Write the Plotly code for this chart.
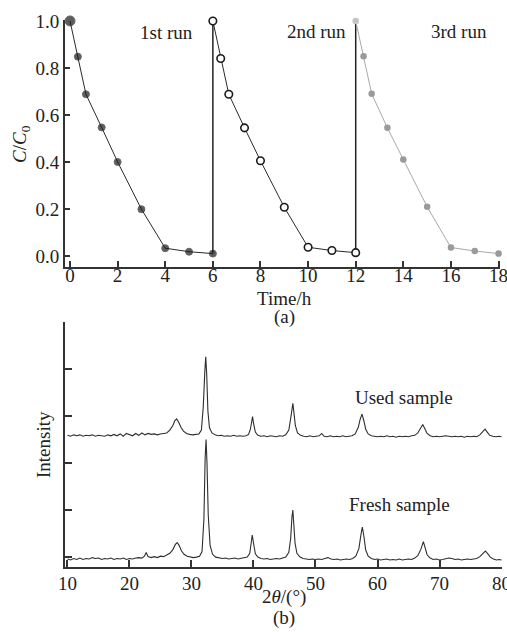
import plotly.graph_objects as go

# ---------------- data: (a) photocatalytic cycles ----------------
run1_t = [0, 0.33, 0.67, 1.33, 2, 3, 4, 5, 6]
run1_c = [1.0, 0.848, 0.688, 0.547, 0.40, 0.199, 0.033, 0.018, 0.01]
run2_t = [6, 6.33, 6.67, 7.33, 8, 9, 10, 11, 12]
run2_c = [1.0, 0.84, 0.688, 0.545, 0.405, 0.207, 0.037, 0.023, 0.014]
run3_t = [12, 12.33, 12.67, 13.33, 14, 15, 16, 17, 18]
run3_c = [1.0, 0.85, 0.69, 0.545, 0.41, 0.209, 0.036, 0.021, 0.01]
run_labels = ["1st run", "2nd run", "3rd run"]
run_label_t = [4.07, 10.37, 16.32]
run_label_c = [0.949, 0.953, 0.953]
time_ticks = [0, 2, 4, 6, 8, 10, 12, 14, 16, 18]
c_ticks = [0.0, 0.2, 0.4, 0.6, 0.8, 1.0]

# ---------------- data: (b) XRD patterns ----------------
fresh_2theta = [
    10.0, 10.5, 11.0, 11.5, 12.0, 12.5, 13.0, 13.5, 14.0, 14.5, 15.0, 15.5, 16.0, 16.5,
    17.0, 17.5, 18.0, 18.5, 19.0, 19.5, 20.0, 20.5, 21.0, 21.5, 22.0, 22.4, 22.7, 23.0,
    23.5, 24.0, 24.5, 25.0, 25.5, 26.0, 26.5, 27.0, 27.4, 27.7, 28.0, 28.4, 28.8, 29.3,
    29.8, 30.3, 30.8, 31.3, 31.7, 32.0, 32.2, 32.35, 32.5, 32.7, 33.0, 33.4, 33.9, 34.5,
    35.0, 35.5, 36.0, 36.5, 37.0, 37.5, 38.0, 38.5, 39.0, 39.4, 39.65, 39.8, 40.0, 40.3,
    40.7, 41.2, 41.7, 42.2, 42.7, 43.2, 43.7, 44.2, 44.7, 45.2, 45.7, 46.0, 46.2, 46.35,
    46.5, 46.7, 47.0, 47.5, 48.0, 48.5, 49.0, 49.5, 50.0, 50.5, 51.0, 51.5, 52.0, 52.5,
    53.0, 53.5, 54.0, 54.5, 55.0, 55.5, 56.0, 56.5, 57.0, 57.3, 57.55, 57.8, 58.1, 58.5,
    59.0, 59.5, 60.0, 60.5, 61.0, 61.5, 62.0, 62.5, 63.0, 63.5, 64.0, 64.5, 65.0, 65.5,
    66.0, 66.5, 67.0, 67.4, 67.7, 68.0, 68.5, 69.0, 69.5, 70.0, 70.5, 71.0, 71.5, 72.0,
    72.5, 73.0, 73.5, 74.0, 74.5, 75.0, 75.5, 76.0, 76.5, 77.0, 77.4, 77.8, 78.2, 78.7,
    79.2, 79.6, 80.0]
fresh_int = [
    -0.04, -0.06, -0.03, -0.05, -0.02, -0.05, -0.03, -0.04, -0.01, -0.03, -0.02, -0.05, -0.03, -0.04,
    -0.02, -0.05, -0.03, -0.04, -0.02, -0.05, -0.03, -0.04, -0.02, -0.01, -0.02, 0.02, 0.10, 0.01,
    -0.01, 0.01, -0.01, 0.02, 0.01, 0.04, 0.08, 0.16, 0.27, 0.31, 0.25, 0.13, 0.06, 0.02,
    0.00, -0.01, 0.00, 0.02, 0.12, 0.80, 2.10, 2.50, 2.00, 0.90, 0.25, 0.06, 0.00, -0.02,
    -0.03, -0.02, -0.04, -0.03, -0.02, -0.04, -0.03, -0.02, 0.00, 0.08, 0.30, 0.47, 0.30, 0.07,
    0.00, -0.03, -0.04, -0.03, -0.05, -0.04, -0.03, -0.04, -0.02, 0.00, 0.10, 0.40, 0.85, 1.00,
    0.70, 0.30, 0.08, 0.00, -0.03, -0.04, -0.05, -0.04, -0.05, -0.04, -0.05, -0.03, -0.01, -0.04,
    -0.05, -0.04, -0.06, -0.05, -0.04, -0.05, -0.03, 0.02, 0.18, 0.45, 0.64, 0.45, 0.15, 0.02,
    -0.03, -0.05, -0.04, -0.06, -0.05, -0.04, -0.06, -0.05, -0.06, -0.04, -0.06, -0.05, -0.04, -0.05,
    -0.02, 0.03, 0.17, 0.33, 0.18, 0.05, -0.02, -0.05, -0.04, -0.06, -0.05, -0.04, -0.02, -0.03,
    -0.05, -0.04, -0.06, -0.05, -0.04, -0.05, -0.04, -0.03, 0.01, 0.08, 0.13, 0.07, 0.00, -0.04,
    -0.06, -0.05, -0.06]

used_2theta = [
    10.0, 10.5, 11.0, 11.5, 12.0, 12.5, 13.0, 13.5, 14.0, 14.5, 15.0, 15.5, 16.0, 16.5,
    17.0, 17.5, 18.0, 18.5, 19.0, 19.5, 20.0, 20.5, 21.0, 21.5, 22.0, 22.5, 23.0, 23.5,
    24.0, 24.5, 25.0, 25.5, 26.0, 26.5, 27.0, 27.3, 27.6, 27.9, 28.3, 28.7, 29.2, 29.7,
    30.2, 30.7, 31.2, 31.6, 31.9, 32.15, 32.3, 32.45, 32.65, 32.9, 33.3, 33.8, 34.3, 34.8,
    35.3, 35.8, 36.3, 36.8, 37.3, 37.8, 38.3, 38.8, 39.2, 39.5, 39.7, 39.85, 40.0, 40.3,
    40.7, 41.2, 41.7, 42.2, 42.7, 43.2, 43.7, 44.2, 44.7, 45.2, 45.7, 46.0, 46.2, 46.35,
    46.5, 46.75, 47.1, 47.6, 48.1, 48.6, 49.1, 49.6, 50.1, 50.6, 51.0, 51.4, 51.9, 52.4,
    52.9, 53.4, 53.9, 54.4, 54.9, 55.4, 55.9, 56.4, 56.9, 57.2, 57.5, 57.8, 58.1, 58.5,
    59.0, 59.5, 60.0, 60.5, 61.0, 61.5, 62.0, 62.5, 63.0, 63.5, 64.0, 64.5, 65.0, 65.5,
    66.0, 66.5, 66.9, 67.3, 67.6, 68.0, 68.5, 69.0, 69.5, 70.0, 70.5, 71.0, 71.5, 72.0,
    72.5, 73.0, 73.5, 74.0, 74.5, 75.0, 75.5, 76.0, 76.5, 77.0, 77.35, 77.7, 78.1, 78.6,
    79.1, 79.6, 80.0]
used_int = [
    2.59, 2.57, 2.60, 2.58, 2.60, 2.57, 2.59, 2.58, 2.60, 2.57, 2.59, 2.58, 2.57, 2.60,
    2.58, 2.61, 2.58, 2.62, 2.57, 2.63, 2.60, 2.58, 2.63, 2.59, 2.64, 2.60, 2.63, 2.61,
    2.62, 2.60, 2.62, 2.63, 2.64, 2.70, 2.80, 2.90, 2.94, 2.88, 2.76, 2.68, 2.63, 2.61,
    2.60, 2.61, 2.62, 2.70, 3.20, 3.95, 4.26, 3.90, 3.10, 2.75, 2.64, 2.60, 2.58, 2.59,
    2.57, 2.58, 2.57, 2.59, 2.57, 2.58, 2.57, 2.58, 2.61, 2.72, 2.92, 2.99, 2.85, 2.66,
    2.59, 2.57, 2.58, 2.56, 2.58, 2.57, 2.56, 2.58, 2.57, 2.60, 2.70, 2.95, 3.20, 3.27,
    3.10, 2.80, 2.64, 2.59, 2.57, 2.56, 2.58, 2.56, 2.57, 2.58, 2.63, 2.57, 2.56, 2.58,
    2.56, 2.57, 2.56, 2.58, 2.56, 2.57, 2.58, 2.62, 2.76, 2.93, 3.04, 2.90, 2.72, 2.62,
    2.58, 2.57, 2.56, 2.57, 2.56, 2.58, 2.56, 2.57, 2.55, 2.57, 2.56, 2.57, 2.56, 2.58,
    2.59, 2.64, 2.74, 2.82, 2.74, 2.63, 2.58, 2.56, 2.57, 2.56, 2.57, 2.58, 2.57, 2.56,
    2.57, 2.56, 2.57, 2.55, 2.57, 2.56, 2.57, 2.56, 2.60, 2.67, 2.72, 2.66, 2.59, 2.57,
    2.56, 2.57, 2.56]
sample_labels = ["Used sample", "Fresh sample"]
sample_label_2theta = [64.2, 63.5]
sample_label_int = [3.40, 1.11]
theta_ticks = [10, 20, 30, 40, 50, 60, 70, 80]
int_ticks = [0, 1, 2, 3, 4, 5]

# ---------------- styling / layout ----------------
FONT = "Liberation Serif"
TXT = "#222222"
AX = "#333333"
W, H = 507, 632
ML, MR, MT, MB = 65, 5, 20, 65
PW = W - ML - MR
PH = H - MT - MB


def px(xp):
    return (xp - ML) / PW


def py(yp):
    return (H - MB - yp) / PH


fig = go.Figure()

# vertical connectors between runs
fig.add_trace(go.Scatter(x=[run1_t[-1], run2_t[0]], y=[run1_c[-1], run2_c[0]], mode="lines",
                         line=dict(color="#222222", width=1.5), xaxis="x", yaxis="y",
                         showlegend=False, hoverinfo="skip"))
fig.add_trace(go.Scatter(x=[run2_t[-1], run3_t[0]], y=[run2_c[-1], run3_c[0]], mode="lines",
                         line=dict(color="#222222", width=1.5), xaxis="x", yaxis="y",
                         showlegend=False, hoverinfo="skip"))

fig.add_trace(go.Scatter(x=run1_t, y=run1_c, mode="lines+markers",
                         line=dict(color="#2a2a2a", width=1),
                         marker=dict(color="#1a1a1a", size=[10] + [7] * (len(run1_t) - 1)),
                         cliponaxis=False, xaxis="x", yaxis="y", showlegend=False))
fig.add_trace(go.Scatter(x=run2_t, y=run2_c, mode="lines+markers",
                         line=dict(color="#2a2a2a", width=1),
                         marker=dict(color="white", size=7.5, line=dict(color="#1a1a1a", width=1.6)),
                         cliponaxis=False, xaxis="x", yaxis="y", showlegend=False))
fig.add_trace(go.Scatter(x=run3_t, y=run3_c, mode="lines+markers",
                         line=dict(color="#a8a8a8", width=1),
                         marker=dict(color=["#c4c4c4"] + ["#9a9a9a"] * (len(run3_t) - 1), size=6.5),
                         cliponaxis=False, xaxis="x", yaxis="y", showlegend=False))

fig.add_trace(go.Scatter(x=used_2theta, y=used_int, mode="lines",
                         line=dict(color="#2e2e2e", width=1.1),
                         xaxis="x2", yaxis="y2", showlegend=False))
fig.add_trace(go.Scatter(x=fresh_2theta, y=fresh_int, mode="lines",
                         line=dict(color="#2e2e2e", width=1.1),
                         xaxis="x2", yaxis="y2", showlegend=False))

ann = []
for lab, t, c in zip(run_labels, run_label_t, run_label_c):
    ann.append(dict(text=lab, x=t, y=c, xref="x", yref="y", showarrow=False,
                    font=dict(family=FONT, size=19, color=TXT)))
for lab, t, c in zip(sample_labels, sample_label_2theta, sample_label_int):
    ann.append(dict(text=lab, x=t, y=c, xref="x2", yref="y2", showarrow=False,
                    font=dict(family=FONT, size=19, color=TXT)))

titles = [
    ("<i>C</i>/<i>C</i><sub>0</sub>", 21, 144, -90),
    ("Time/h", 284, 298, 0),
    ("(a)", 284, 317, 0),
    ("Intensity", 43, 445, -90),
    ("2<i>θ</i>/(°)", 284, 597, 0),
    ("(b)", 284, 618, 0),
]
for txt, xp, yp, ang in titles:
    ann.append(dict(text=txt, x=px(xp), y=py(yp), xref="paper", yref="paper",
                    xanchor="center", yanchor="middle", showarrow=False, textangle=ang,
                    font=dict(family=FONT, size=19, color=TXT)))

axis_common = dict(showline=True, linecolor=AX, linewidth=1.8, ticks="inside",
                   tickcolor=AX, tickwidth=1.5, showgrid=False, zeroline=False,
                   mirror=False, tickfont=dict(family=FONT, size=19, color=TXT),
                   ticklabeloverflow="allow", automargin=False)

fig.update_layout(
    width=W, height=H,
    margin=dict(l=ML, r=MR, t=MT, b=MB),
    paper_bgcolor="white", plot_bgcolor="white",
    font=dict(family=FONT, size=19, color=TXT),
    annotations=ann,
    xaxis=dict(axis_common, domain=[0, (500 - ML) / PW], range=[-0.21, 18.06],
               tickvals=time_ticks, ticklen=6, anchor="y", ticklabelstandoff=-10),
    yaxis=dict(axis_common, domain=[py(267), 1.0], range=[-0.047, 1.004],
               tickvals=c_ticks, tickformat=".1f", ticklen=5, anchor="x"),
    xaxis2=dict(axis_common, domain=[0, 1], range=[9.6, 80.08], tickvals=theta_ticks,
                ticklen=7, anchor="y2", ticklabelstandoff=-2),
    yaxis2=dict(axis_common, domain=[0, py(322)], range=[-0.21, 5.0], tickvals=int_ticks,
                showticklabels=False, ticklen=7, anchor="x2"),
)

fig.write_html("out.html", config={"displayModeBar": False},
               post_script="document.body.style.margin='0';document.body.style.padding='0';")
